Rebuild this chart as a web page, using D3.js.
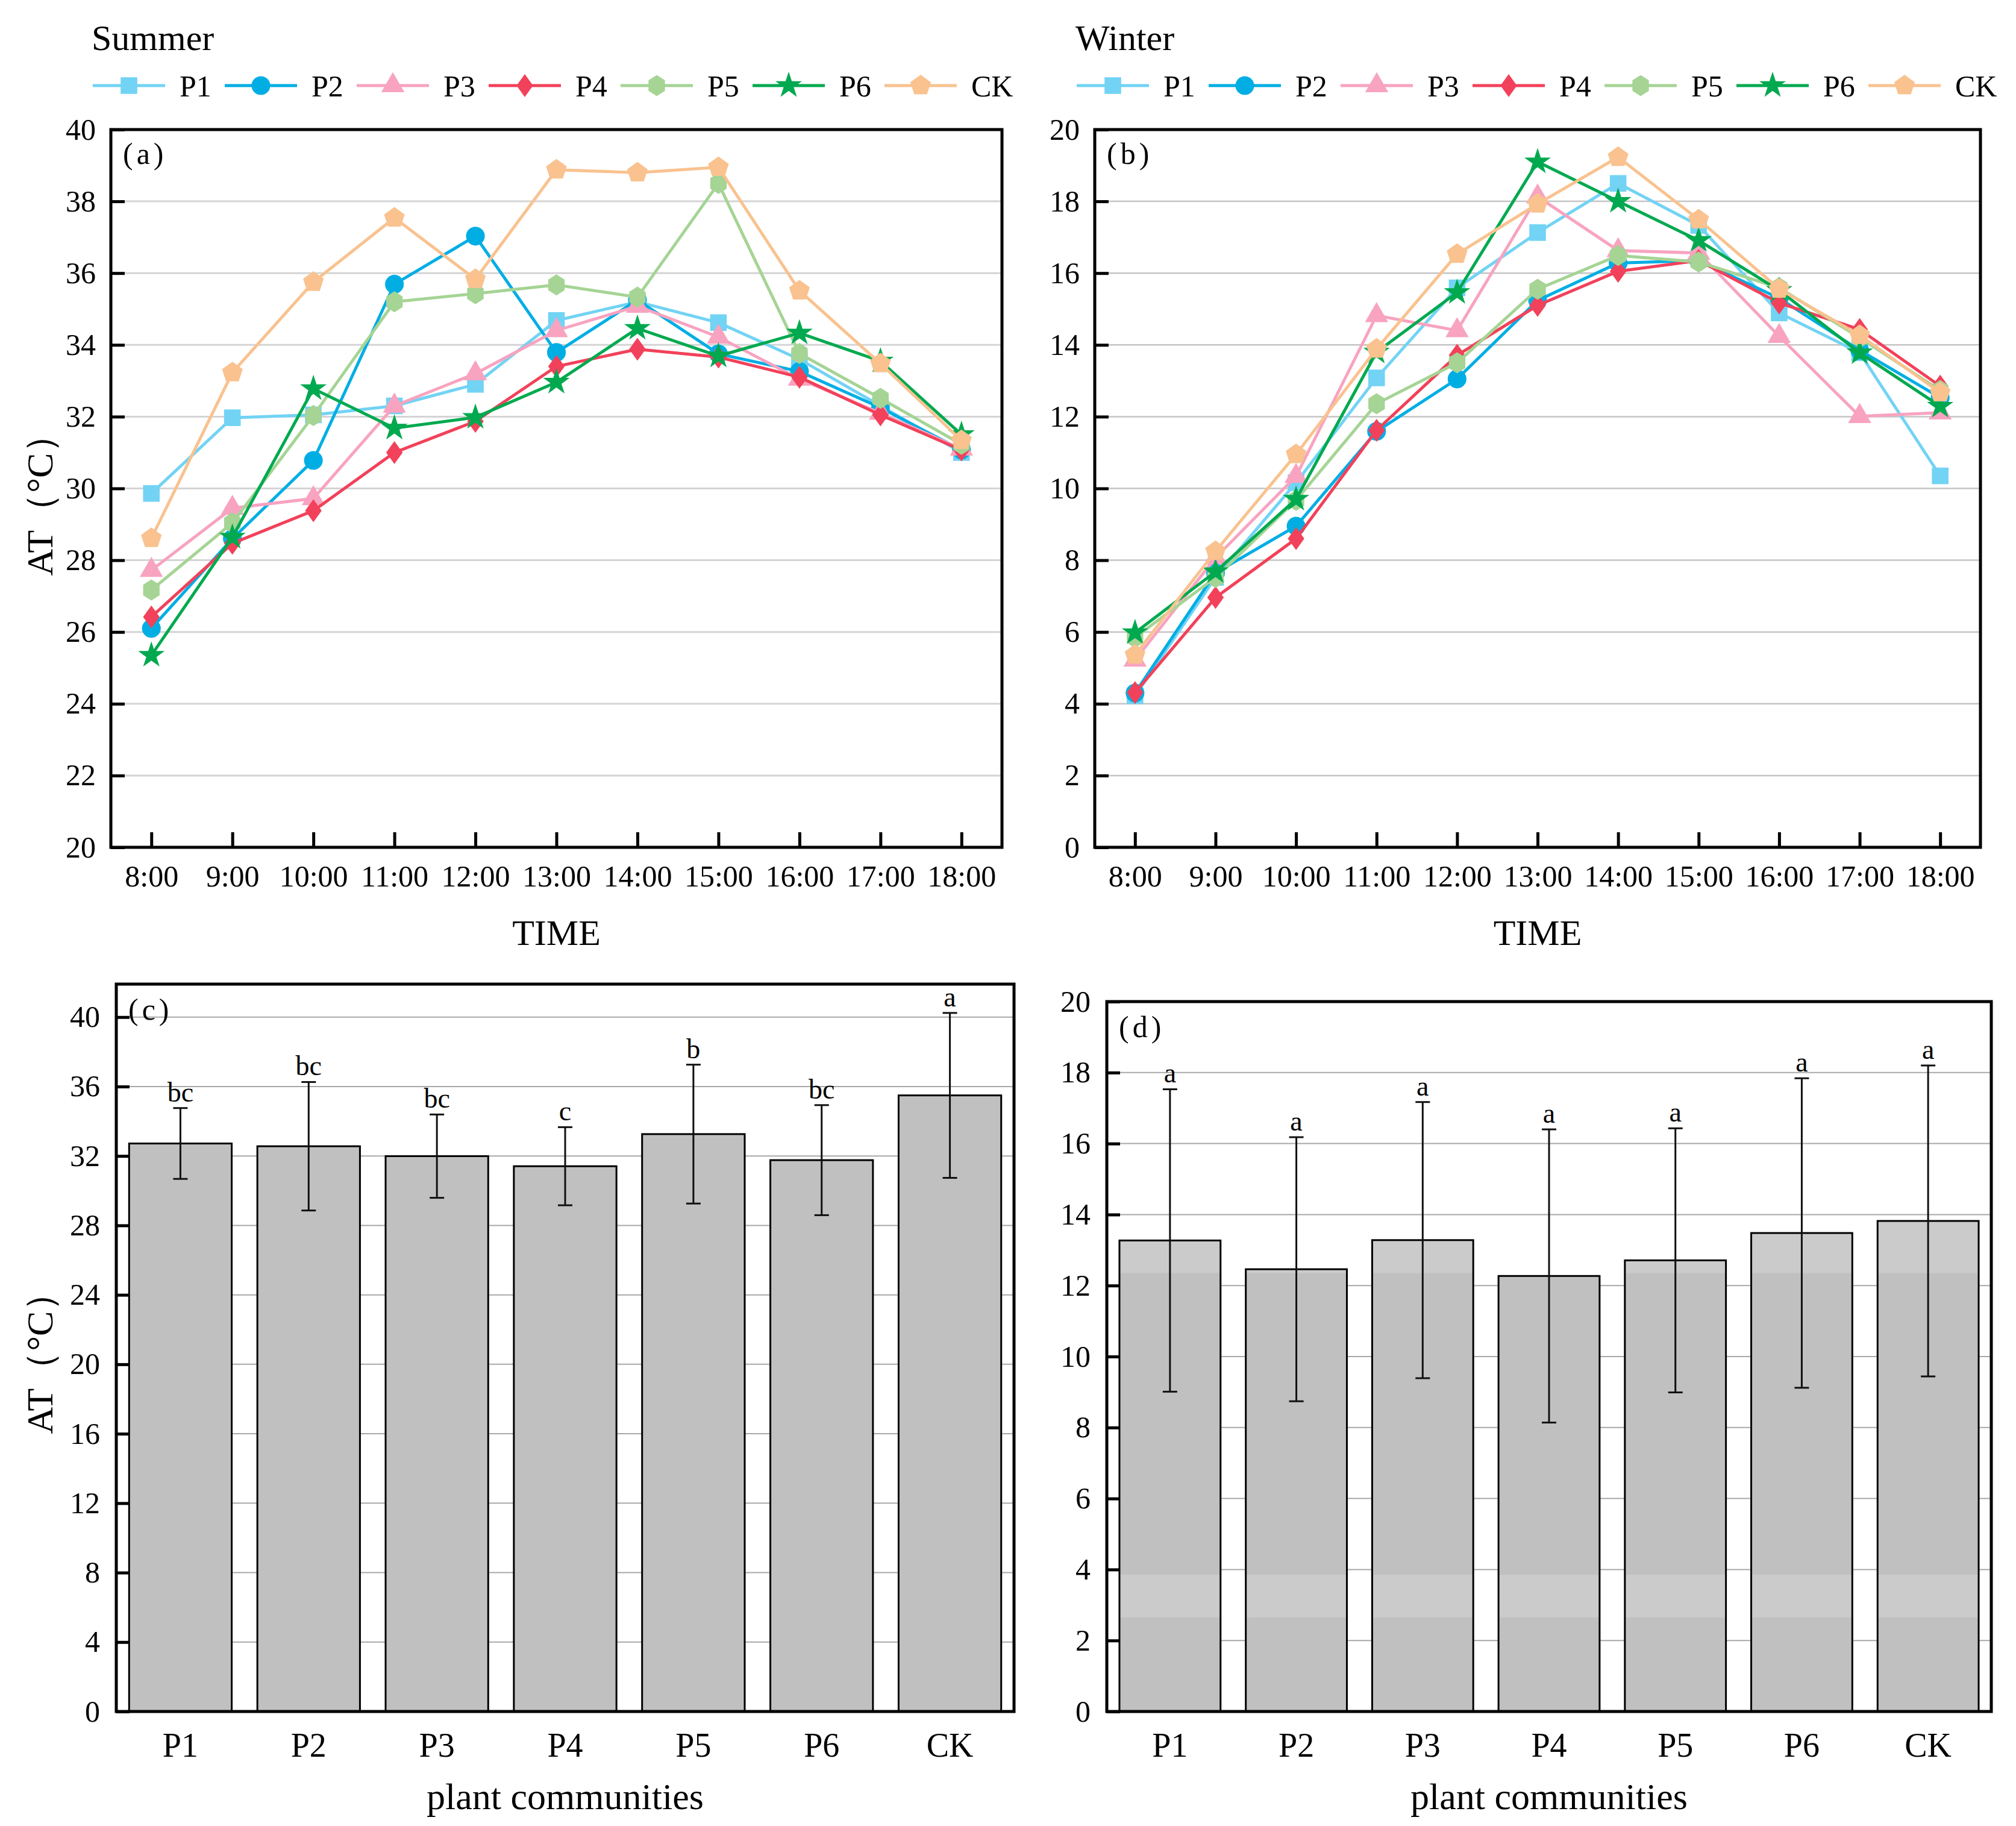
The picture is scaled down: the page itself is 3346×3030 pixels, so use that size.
<!DOCTYPE html>
<html>
<head>
<meta charset="utf-8">
<script src="https://cdn.jsdelivr.net/npm/d3@7"></script>
<style>
  body { margin: 0; background: #fff; }
  svg text { font-family: "Liberation Serif", "Times New Roman", serif; fill: #000; }
</style>
</head>
<body>
<svg id="chart" width="3346" height="3030"></svg>
<script>
// ---- data ----
const times = ["8:00", "9:00", "10:00", "11:00", "12:00", "13:00", "14:00", "15:00", "16:00", "17:00", "18:00"];
const communities = ["P1", "P2", "P3", "P4", "P5", "P6", "CK"];

// summer hourly air temperature
const summerP1 = [29.86, 31.97, 32.05, 32.3, 32.9, 34.68, 35.2, 34.62, 33.6, 32.3, 31.0];
const summerP2 = [26.1, 28.6, 30.78, 35.69, 37.03, 33.79, 35.25, 33.75, 33.26, 32.25, 31.07];
const summerP3 = [27.72, 29.45, 29.72, 32.3, 33.2, 34.4, 35.08, 34.22, 33.05, 32.1, 31.1];
const summerP4 = [26.42, 28.47, 29.38, 31.0, 31.87, 33.4, 33.88, 33.66, 33.1, 32.05, 31.07];
const summerP5 = [27.17, 29.04, 32.03, 35.2, 35.43, 35.67, 35.33, 38.5, 33.76, 32.51, 31.23];
const summerP6 = [25.35, 28.64, 32.78, 31.68, 31.98, 32.96, 34.46, 33.69, 34.33, 33.55, 31.5];
const summerCK = [28.61, 33.23, 35.75, 37.54, 35.83, 38.88, 38.8, 38.95, 35.51, 33.48, 31.34];

// winter hourly air temperature
const winterP1 = [4.22, 7.52, 10.16, 13.08, 15.59, 17.13, 18.5, 17.33, 14.89, 13.78, 10.35];
const winterP2 = [4.3, 7.65, 8.95, 11.59, 13.05, 15.24, 16.28, 16.35, 15.3, 13.85, 12.53];
const winterP3 = [5.22, 8.07, 10.34, 14.82, 14.4, 18.13, 16.63, 16.56, 14.24, 12.01, 12.11];
const winterP4 = [4.31, 6.96, 8.6, 11.62, 13.71, 15.1, 16.05, 16.35, 15.17, 14.43, 12.85];
const winterP5 = [5.85, 7.52, 9.67, 12.36, 13.5, 15.55, 16.49, 16.31, 15.59, 14.2, 12.73];
const winterP6 = [5.98, 7.68, 9.7, 13.8, 15.46, 19.1, 18.0, 16.91, 15.52, 13.78, 12.29];
const winterCK = [5.36, 8.25, 10.95, 13.89, 16.53, 17.93, 19.23, 17.49, 15.56, 14.27, 12.67];

// daily means with standard deviation and significance letters
const summerMean = [32.72, 32.56, 31.99, 31.41, 33.26, 31.76, 35.49];
const summerSd = [2.04, 3.7, 2.4, 2.25, 4.0, 3.17, 4.75];
const summerLetters = ["bc", "bc", "bc", "c", "b", "bc", "a"];
const winterMean = [13.27, 12.46, 13.28, 12.27, 12.71, 13.48, 13.82];
const winterSd = [4.26, 3.72, 3.89, 4.13, 3.72, 4.36, 4.38];
const winterLetters = ["a", "a", "a", "a", "a", "a", "a"];

// tick values
const summerTicks = d3.range(20, 41, 2);
const winterTicks = d3.range(0, 21, 2);
const summerBarTicks = d3.range(0, 41, 4);
const winterBarTicks = d3.range(0, 21, 2);

// lighter bands seen on the winter bars (value ranges)
const winterShade = [[2.65, 3.85], [12.35, 20]];

// ---- styles ----
const colors = {
  P1: "#72d3f4", P2: "#00aee4", P3: "#f8a3c0", P4: "#f2415a",
  P5: "#a5d494", P6: "#00a94f", CK: "#f9c28f"
};

function polygon(n, r, sx) {
  const pts = d3.range(n).map(i => {
    const a = i * 2 * Math.PI / n;
    return [(r * Math.sin(a) * sx).toFixed(2), (-r * Math.cos(a)).toFixed(2)];
  });
  return "M" + pts.join("L") + "Z";
}

const shapes = {
  P1: d3.symbol(d3.symbolSquare, 760)(),
  P2: d3.symbol(d3.symbolCircle, 760)(),
  P3: d3.symbol(d3.symbolTriangle, 640)(),
  P4: polygon(4, 19, 0.72),
  P5: polygon(6, 17.5, 0.9),
  P6: d3.symbol(d3.symbolStar, 600)(),
  CK: polygon(5, 18, 1)
};

const svg = d3.select("#chart");
svg.append("rect").attr("width", 3346).attr("height", 3030).attr("fill", "#fff");

function styleAxis(g) {
  g.attr("font-family", null).attr("font-size", 50);
  g.select(".domain").remove();
  g.selectAll(".tick line").attr("stroke", "#000").attr("stroke-width", 5);
}

function yTitle(cx, cy) {
  svg.append("text")
    .attr("transform", `translate(${cx},${cy}) rotate(-90)`)
    .attr("text-anchor", "middle")
    .attr("dominant-baseline", "central")
    .attr("font-size", 62)
    .text("AT（°C）");
}

function linePanel({ left, right, top, bottom, domain, ticks, seriesData, season, tag, gridColor, gridWidth, showYTitle }) {
  const x = d3.scalePoint().domain(times).range([left, right]).padding(0.5);
  const y = d3.scaleLinear().domain(domain).range([bottom, top]);
  const g = svg.append("g");

  g.append("g").selectAll("line")
    .data(ticks.filter(t => t > domain[0] && t < domain[1]))
    .join("line")
    .attr("x1", left).attr("x2", right)
    .attr("y1", d => y(d)).attr("y2", d => y(d))
    .attr("stroke", gridColor).attr("stroke-width", gridWidth);

  g.append("g")
    .attr("transform", `translate(${left},0)`)
    .call(d3.axisLeft(y).tickValues(ticks).tickSize(-23).tickPadding(25))
    .call(styleAxis);

  g.append("g")
    .attr("transform", `translate(0,${bottom})`)
    .call(d3.axisBottom(x).tickSize(-25).tickPadding(29))
    .call(styleAxis);

  g.append("rect")
    .attr("x", left).attr("y", top)
    .attr("width", right - left).attr("height", bottom - top)
    .attr("fill", "none").attr("stroke", "#000").attr("stroke-width", 5);

  const line = d3.line().x((d, i) => x(times[i])).y(d => y(d));
  communities.forEach(name => {
    const values = seriesData[name];
    const s = g.append("g");
    s.append("path")
      .attr("d", line(values))
      .attr("fill", "none")
      .attr("stroke", colors[name])
      .attr("stroke-width", 5);
    s.selectAll("path.mark")
      .data(values)
      .join("path")
      .attr("class", "mark")
      .attr("d", shapes[name])
      .attr("transform", (d, i) => `translate(${x(times[i])},${y(d)})`)
      .attr("fill", colors[name]);
  });

  g.append("text")
    .attr("x", left + 20).attr("y", top + 57)
    .attr("font-size", 50)
    .attr("letter-spacing", 6)
    .text(`(${tag})`);

  // season title and legend
  const lx = left - 30;
  svg.append("text")
    .attr("x", lx - 2).attr("y", 83)
    .attr("font-size", 60)
    .text(season);

  const item = svg.append("g").selectAll("g")
    .data(communities)
    .join("g")
    .attr("transform", (d, i) => `translate(${lx + i * 219},142)`);
  item.append("line")
    .attr("x1", 0).attr("x2", 120)
    .attr("stroke", d => colors[d]).attr("stroke-width", 5);
  item.append("path")
    .attr("d", d => shapes[d])
    .attr("transform", "translate(60,0)")
    .attr("fill", d => colors[d]);
  item.append("text")
    .attr("x", 144).attr("y", 18)
    .attr("font-size", 50)
    .text(d => d);

  svg.append("text")
    .attr("x", (left + right) / 2).attr("y", 1568)
    .attr("text-anchor", "middle")
    .attr("font-size", 60)
    .text("TIME");

  if (showYTitle) yTitle(66, (top + bottom) / 2 + 12);
}

function barPanel({ left, right, top, bottom, domain, ticks, means, sds, letters, tag, shade, showYTitle }) {
  const x = d3.scaleBand().domain(communities).range([left, right]).paddingInner(0.2).paddingOuter(0.1);
  const y = d3.scaleLinear().domain(domain).range([bottom, top]);
  const g = svg.append("g");
  const rows = communities.map((c, i) => ({ c, m: means[i], sd: sds[i], l: letters[i] }));

  g.append("g").selectAll("line")
    .data(ticks.filter(t => t > domain[0] && t < domain[1]))
    .join("line")
    .attr("x1", left).attr("x2", right)
    .attr("y1", d => y(d)).attr("y2", d => y(d))
    .attr("stroke", "#a8a8a8").attr("stroke-width", 2);

  const bar = g.append("g").selectAll("g")
    .data(rows)
    .join("g");
  bar.append("rect")
    .attr("x", d => x(d.c)).attr("width", x.bandwidth())
    .attr("y", d => y(d.m)).attr("height", d => y(0) - y(d.m))
    .attr("fill", "#c0c0c0");
  if (shade) {
    bar.selectAll("rect.shade")
      .data(d => shade.filter(b => b[0] < d.m).map(b => ({ c: d.c, lo: b[0], hi: Math.min(b[1], d.m) })))
      .join("rect")
      .attr("class", "shade")
      .attr("x", d => x(d.c)).attr("width", x.bandwidth())
      .attr("y", d => y(d.hi)).attr("height", d => y(d.lo) - y(d.hi))
      .attr("fill", "#cbcbcb");
  }
  bar.append("rect")
    .attr("x", d => x(d.c)).attr("width", x.bandwidth())
    .attr("y", d => y(d.m)).attr("height", d => y(0) - y(d.m))
    .attr("fill", "none").attr("stroke", "#000").attr("stroke-width", 3);

  const cx = d => x(d.c) + x.bandwidth() / 2;
  bar.append("line")
    .attr("x1", cx).attr("x2", cx)
    .attr("y1", d => y(d.m - d.sd)).attr("y2", d => y(d.m + d.sd))
    .attr("stroke", "#111").attr("stroke-width", 3);
  [-1, 1].forEach(k => {
    bar.append("line")
      .attr("x1", d => cx(d) - 12).attr("x2", d => cx(d) + 12)
      .attr("y1", d => y(d.m + k * d.sd)).attr("y2", d => y(d.m + k * d.sd))
      .attr("stroke", "#111").attr("stroke-width", 3);
  });
  bar.append("text")
    .attr("x", cx).attr("y", d => y(d.m + d.sd) - 11)
    .attr("text-anchor", "middle")
    .attr("font-size", 46)
    .text(d => d.l);

  g.append("g")
    .attr("transform", `translate(${left},0)`)
    .call(d3.axisLeft(y).tickValues(ticks).tickSize(-22).tickPadding(27))
    .call(styleAxis);

  g.append("g")
    .attr("transform", `translate(0,${bottom})`)
    .call(d3.axisBottom(x).tickSize(0).tickPadding(35))
    .call(styleAxis)
    .attr("font-size", 56);

  g.append("rect")
    .attr("x", left).attr("y", top)
    .attr("width", right - left).attr("height", bottom - top)
    .attr("fill", "none").attr("stroke", "#000").attr("stroke-width", 5);

  g.append("text")
    .attr("x", left + 20).attr("y", top + 59)
    .attr("font-size", 50)
    .attr("letter-spacing", 6)
    .text(`(${tag})`);

  svg.append("text")
    .attr("x", (left + right) / 2).attr("y", 3002)
    .attr("text-anchor", "middle")
    .attr("font-size", 62)
    .text("plant communities");

  if (showYTitle) yTitle(66, (top + bottom) / 2 + 10);
}

linePanel({
  left: 184, right: 1663, top: 215, bottom: 1406,
  domain: [20, 40], ticks: summerTicks,
  seriesData: { P1: summerP1, P2: summerP2, P3: summerP3, P4: summerP4, P5: summerP5, P6: summerP6, CK: summerCK },
  season: "Summer", tag: "a", gridColor: "#d4d4d4", gridWidth: 3, showYTitle: true
});

linePanel({
  left: 1817, right: 3287, top: 215, bottom: 1406,
  domain: [0, 20], ticks: winterTicks,
  seriesData: { P1: winterP1, P2: winterP2, P3: winterP3, P4: winterP4, P5: winterP5, P6: winterP6, CK: winterCK },
  season: "Winter", tag: "b", gridColor: "#c4c4c4", gridWidth: 2.5, showYTitle: false
});

barPanel({
  left: 193, right: 1683, top: 1633, bottom: 2840,
  domain: [0, 41.9], ticks: summerBarTicks,
  means: summerMean, sds: summerSd, letters: summerLetters,
  tag: "c", shade: null, showYTitle: true
});

barPanel({
  left: 1837, right: 3305, top: 1662, bottom: 2840,
  domain: [0, 20], ticks: winterBarTicks,
  means: winterMean, sds: winterSd, letters: winterLetters,
  tag: "d", shade: winterShade, showYTitle: false
});
</script>
</body>
</html>
